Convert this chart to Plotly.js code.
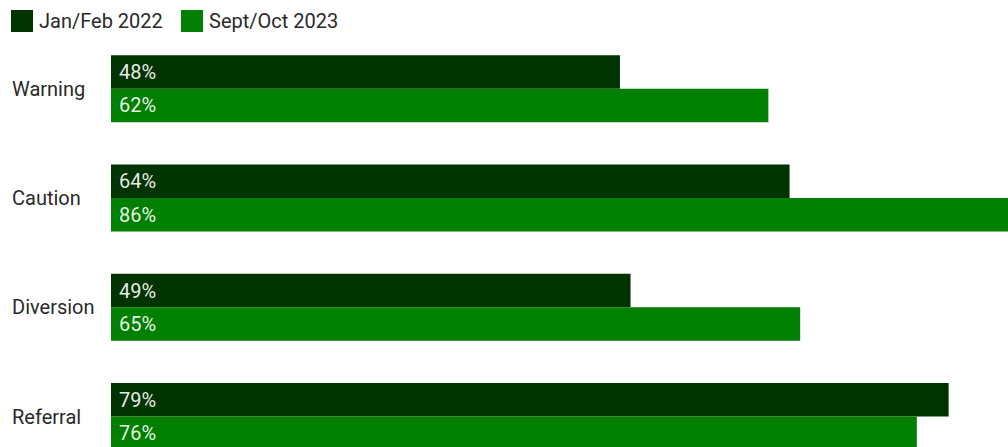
<!DOCTYPE html>
<html>
<head>
<meta charset="utf-8">
<script src="https://cdn.plot.ly/plotly-3.0.1.min.js"></script>
<style>html,body{margin:0;padding:0;background:#fff;}#chart{width:1008px;height:447px;}</style>
</head>
<body>
<div id="chart"></div>
<script>
const categories = ["Warning", "Caution", "Diversion", "Referral"];
const seriesNames = ["Jan/Feb 2022", "Sept/Oct 2023"];
const janFeb2022 = [48, 64, 49, 79];
const septOct2023 = [62, 86, 65, 76];
const colors = ["#003300", "#007f00"];

const FONT = "Roboto, 'Noto Sans', sans-serif";
const fmt = v => "\u00a0" + v + "%";

const traces = [janFeb2022, septOct2023].map((vals, i) => ({
  type: "bar",
  orientation: "h",
  name: seriesNames[i],
  y: categories,
  x: vals,
  text: vals.map(fmt),
  textposition: "inside",
  insidetextanchor: "start",
  textfont: {family: FONT, size: 20, color: "rgba(255,255,255,0.92)"},
  marker: {color: colors[i], line: {width: 0}},
  hoverinfo: "skip"
}));

const annotations = categories.map(c => ({
  xref: "paper", x: 0, xshift: -101, xanchor: "left",
  yref: "y", y: c, yanchor: "middle",
  text: c, showarrow: false,
  font: {family: FONT, size: 20, color: "#2a2a2a"}
}));

const legendX = [-100, 70];
const shapes = [];
seriesNames.forEach((n, i) => {
  shapes.push({
    type: "rect", xref: "paper", yref: "paper",
    xsizemode: "pixel", ysizemode: "pixel",
    xanchor: 0, yanchor: 1,
    x0: legendX[i], x1: legendX[i] + 22, y0: 2, y1: 24,
    fillcolor: colors[i], line: {width: 0}
  });
  annotations.push({
    xref: "paper", x: 0, xshift: legendX[i] + 26, xanchor: "left",
    yref: "paper", y: 1, yshift: 13, yanchor: "middle",
    text: n, showarrow: false,
    font: {family: FONT, size: 20, color: "#2a2a2a"}
  });
});

const layout = {
  width: 1008, height: 447,
  margin: {l: 111, r: 0, t: 34, b: 0, pad: 0},
  paper_bgcolor: "#ffffff", plot_bgcolor: "#ffffff",
  barmode: "group", bargap: 0.387, bargroupgap: 0,
  showlegend: false,
  xaxis: {range: [0, 84.6], visible: false, fixedrange: true},
  yaxis: {type: "category", range: [3.278, -0.5], showticklabels: false,
          showgrid: false, zeroline: false, ticks: "", fixedrange: true},
  shapes: shapes,
  annotations: annotations,
  font: {family: FONT}
};

Plotly.newPlot("chart", traces, layout, {displayModeBar: false, staticPlot: true});
</script>
</body>
</html>
